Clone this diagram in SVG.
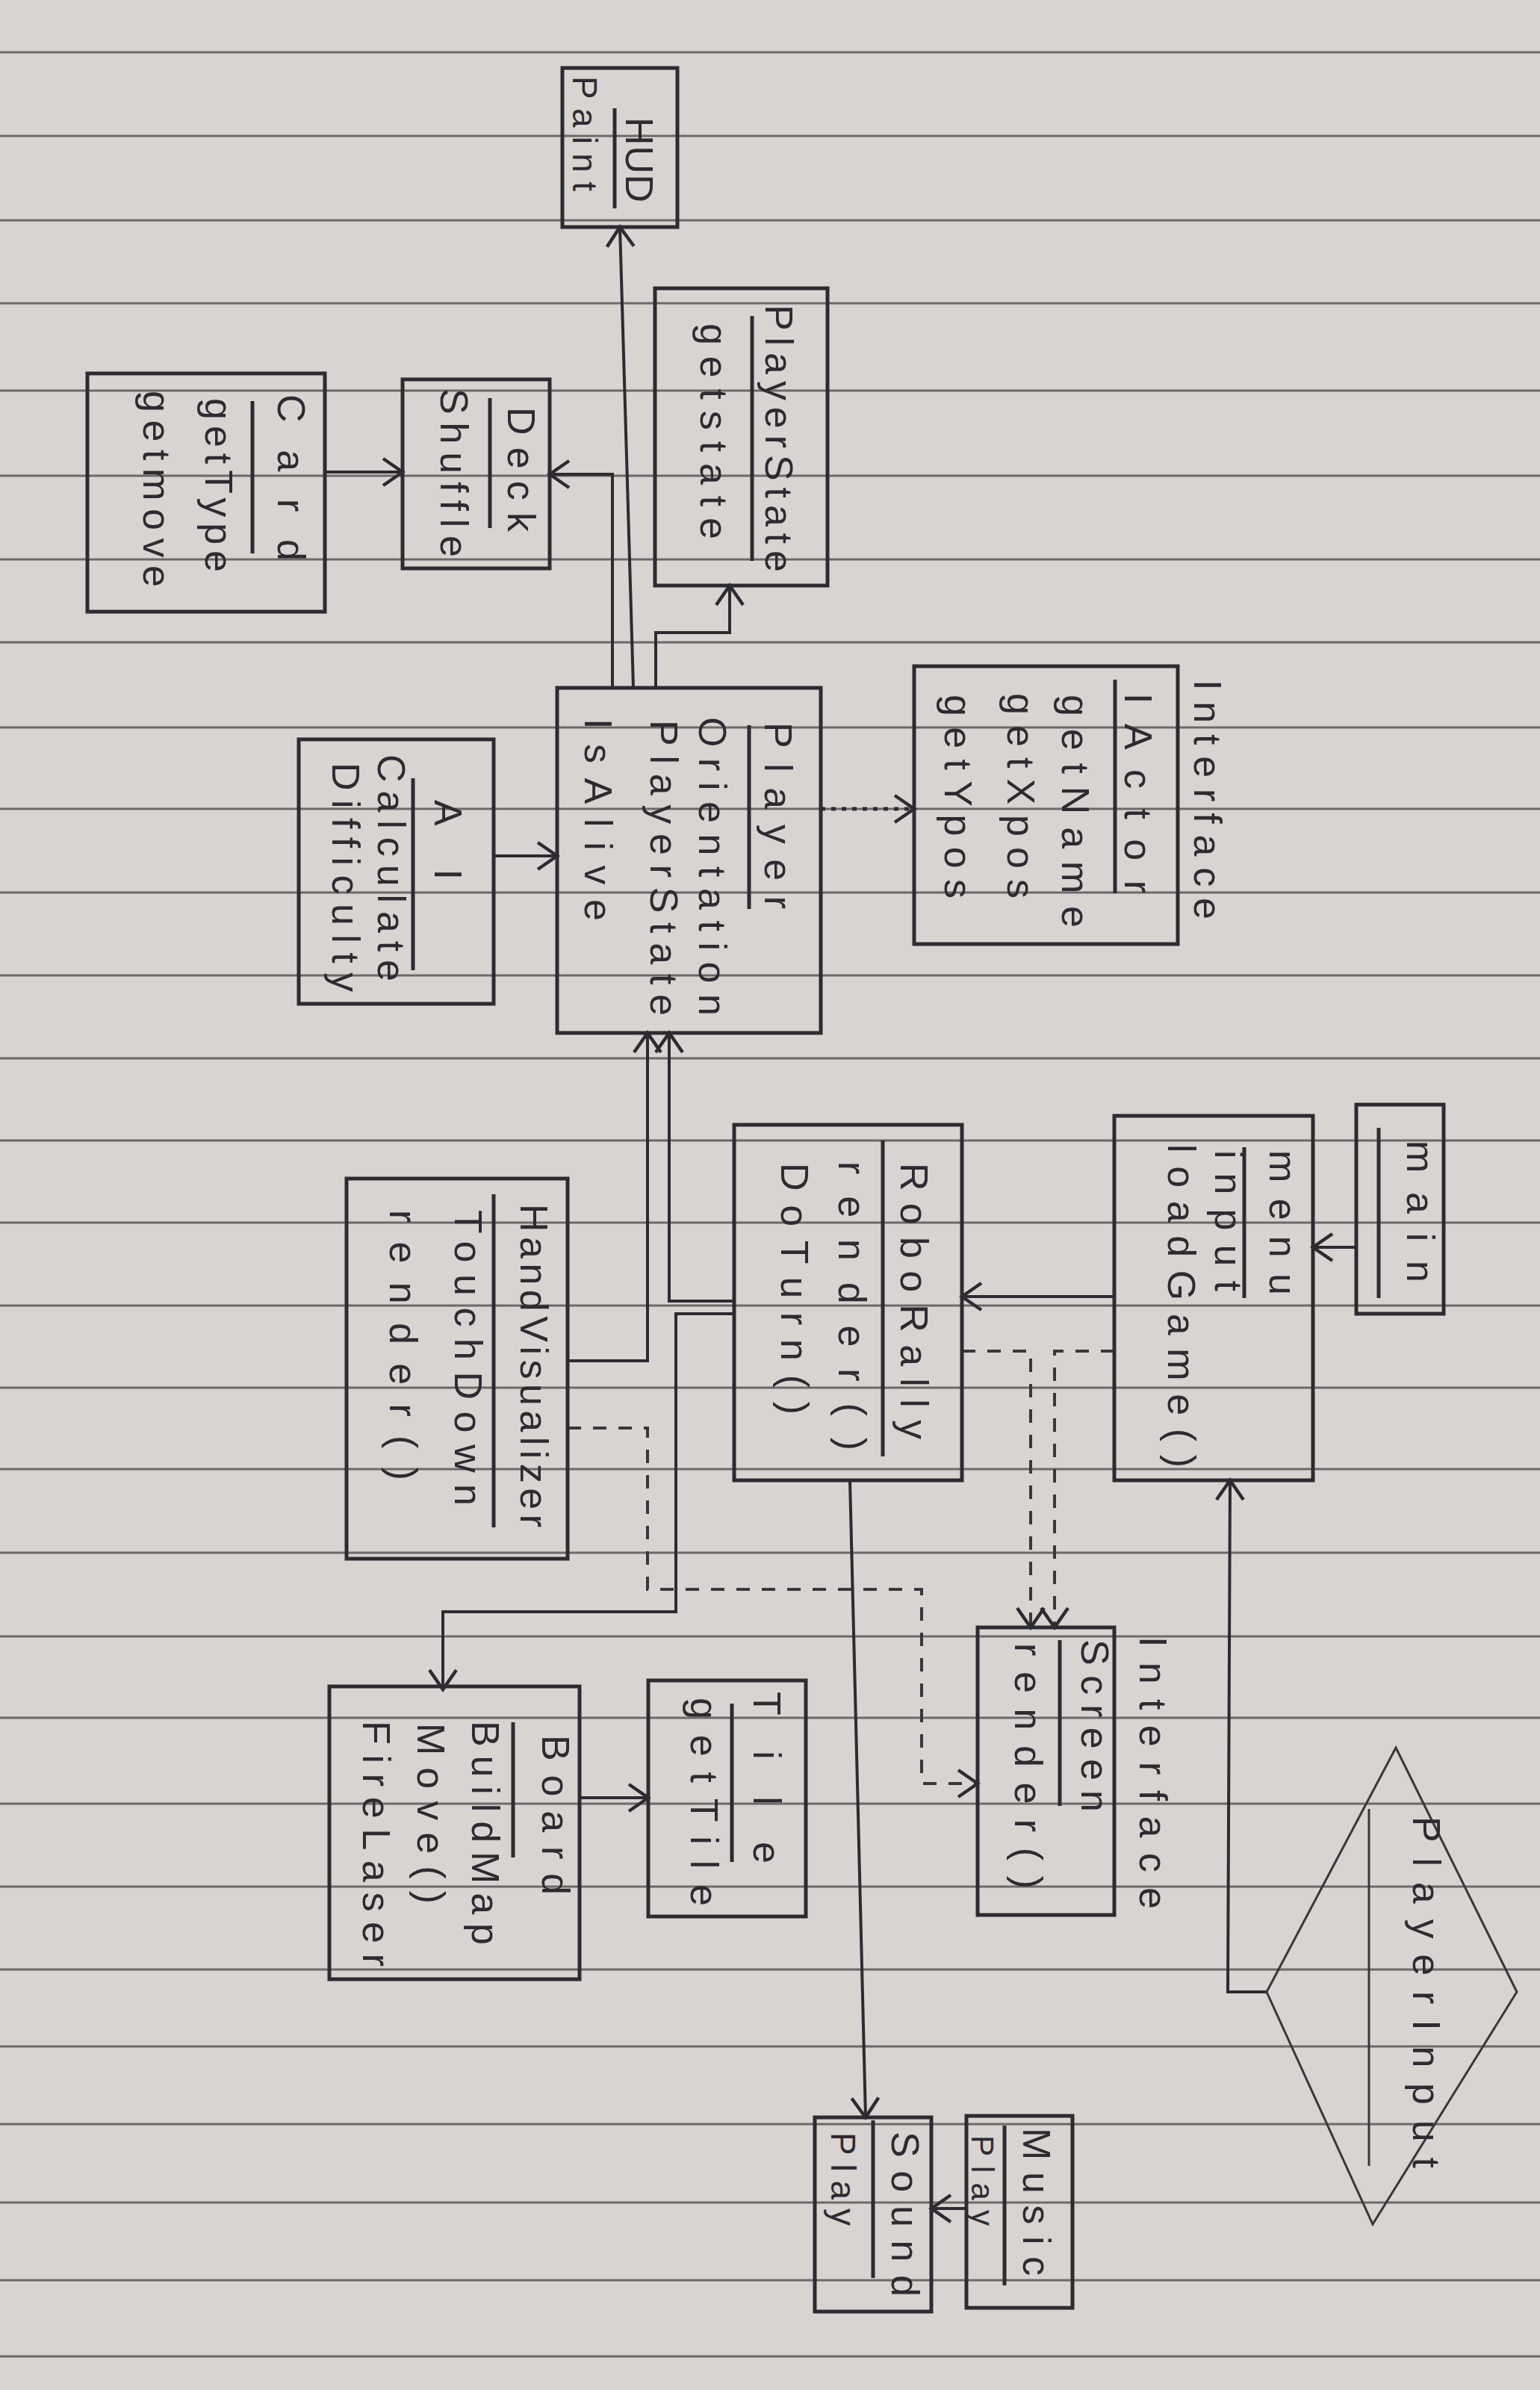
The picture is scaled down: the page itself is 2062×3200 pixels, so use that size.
<svg xmlns="http://www.w3.org/2000/svg" width="2062" height="3200" viewBox="0 0 2062 3200">
<style>
.bg{fill:#d8d4d1}
.rule{stroke:#6e6969;stroke-width:3;fill:none}
.box{fill:none;stroke:#2e2a31;stroke-width:5}
.div{stroke:#2e2a31;stroke-width:5;fill:none}
.t{font-family:"Liberation Sans","DejaVu Sans",sans-serif;font-size:52px;fill:#2e2a31}
.c{fill:none;stroke:#2e2a31;stroke-width:4}
.d{fill:none;stroke:#3a363c;stroke-width:4;stroke-dasharray:18 16}
.dot{fill:none;stroke:#2e2a31;stroke-width:5;stroke-dasharray:6 8}
.dia{fill:none;stroke:#3a363c;stroke-width:3}
</style>
<defs>
<marker id="arr" markerUnits="userSpaceOnUse" markerWidth="34" markerHeight="44" viewBox="-3 -3 34 44" refX="26" refY="18" orient="auto">
<path d="M0,0 L26,18 L0,36" fill="none" stroke="#2e2a31" stroke-width="4.5"/>
</marker>
</defs>
<rect class="bg" x="0" y="0" width="2062" height="3200"/>
<g id="ruling">
<path class="rule" d="M0,70H2062M0,182H2062M0,295H2062M0,406H2062M0,523H2062M0,637H2062M0,749H2062M0,860H2062M0,974H2062M0,1083H2062M0,1195H2062M0,1306H2062M0,1417H2062M0,1527H2062M0,1637H2062M0,1748H2062M0,1858H2062M0,1967H2062M0,2079H2062M0,2191H2062M0,2300H2062M0,2415H2062M0,2526H2062M0,2637H2062M0,2740H2062M0,2844H2062M0,2949H2062M0,3053H2062M0,3155H2062"/>
</g>
<g id="connectors">
<path class="c" d="M435,632H539" marker-end="url(#arr)"/>
<path class="c" d="M820,921V635H736" marker-end="url(#arr)"/>
<path class="c" d="M848,921L830,304" marker-end="url(#arr)"/>
<path class="c" d="M878,921V847H977V784" marker-end="url(#arr)"/>
<path class="c" d="M661,1146H746" marker-end="url(#arr)"/>
<path class="dot" d="M1099,1083H1224" marker-end="url(#arr)"/>
<path class="c" d="M760,1822H867V1383" marker-end="url(#arr)"/>
<path class="c" d="M983,1742H896V1383" marker-end="url(#arr)"/>
<path class="c" d="M983,1759H905V2158H593V2262" marker-end="url(#arr)"/>
<path class="c" d="M1492,1736H1288" marker-end="url(#arr)"/>
<path class="c" d="M1816,1670H1758" marker-end="url(#arr)"/>
<path class="d" d="M760,1912H867V2128H1234V2388H1309" marker-end="url(#arr)"/>
<path class="d" d="M1288,1809H1380V2179" marker-end="url(#arr)"/>
<path class="d" d="M1492,1809H1412V2179" marker-end="url(#arr)"/>
<path class="c" d="M1138,1982L1159,2835" marker-end="url(#arr)"/>
<path class="c" d="M1294,2957H1247" marker-end="url(#arr)"/>
<path class="c" d="M776,2407H868" marker-end="url(#arr)"/>
<path class="c" d="M1696,2667H1644L1647,1982" marker-end="url(#arr)"/>
</g>
<g id="HUD">
<rect class="box" x="753" y="91" width="154" height="213"/>
<path class="div" d="M823,145V279"/>
<text class="t" transform="translate(838,157) rotate(90)" textLength="114" lengthAdjust="spacing">HUD</text>
<text class="t" style="font-size:46px" transform="translate(767,102) rotate(90)" textLength="154" lengthAdjust="spacing">Paint</text>
</g>
<g id="PlayerStateNode">
<rect class="box" x="877" y="386" width="231" height="398"/>
<path class="div" d="M1007,423V751"/>
<text class="t" transform="translate(1025,408) rotate(90)" textLength="358" lengthAdjust="spacing">PlayerState</text>
<text class="t" transform="translate(938,433) rotate(90)" textLength="289" lengthAdjust="spacing">getstate</text>
</g>
<g id="Card">
<rect class="box" x="117" y="500" width="318" height="319"/>
<path class="div" d="M338,537V741"/>
<text class="t" transform="translate(372,528) rotate(90)" textLength="223" lengthAdjust="spacing">Card</text>
<text class="t" transform="translate(275,533) rotate(90)" textLength="233" lengthAdjust="spacing">getType</text>
<text class="t" transform="translate(192,523) rotate(90)" textLength="263" lengthAdjust="spacing">getmove</text>
</g>
<g id="Deck">
<rect class="box" x="539" y="508" width="197" height="253"/>
<path class="div" d="M656,533V707"/>
<text class="t" transform="translate(680,545) rotate(90)" textLength="167" lengthAdjust="spacing">Deck</text>
<text class="t" transform="translate(590,520) rotate(90)" textLength="226" lengthAdjust="spacing">Shuffle</text>
</g>
<g id="Player">
<rect class="box" x="746" y="921" width="353" height="462"/>
<path class="div" d="M1003,971V1217"/>
<text class="t" transform="translate(1024,967) rotate(90)" textLength="250" lengthAdjust="spacing">Player</text>
<text class="t" transform="translate(936,960) rotate(90)" textLength="400" lengthAdjust="spacing">Orientation</text>
<text class="t" transform="translate(871,964) rotate(90)" textLength="396" lengthAdjust="spacing">PlayerState</text>
<text class="t" transform="translate(783,962) rotate(90)" textLength="271" lengthAdjust="spacing">IsAlive</text>
</g>
<g id="AI">
<rect class="box" x="400" y="990" width="261" height="354"/>
<path class="div" d="M553,1042V1299"/>
<text class="t" transform="translate(582,1071) rotate(90)" textLength="107" lengthAdjust="spacing">AI</text>
<text class="t" transform="translate(506,1010) rotate(90)" textLength="304" lengthAdjust="spacing">Calculate</text>
<text class="t" transform="translate(445,1021) rotate(90)" textLength="307" lengthAdjust="spacing">Difficulty</text>
</g>
<g id="IActor">
<rect class="box" x="1224" y="892" width="353" height="372"/>
<path class="div" d="M1493,910V1196"/>
<text class="t" transform="translate(1506,928) rotate(90)" textLength="268" lengthAdjust="spacing">IActor</text>
<text class="t" transform="translate(1422,930) rotate(90)" textLength="312" lengthAdjust="spacing">getName</text>
<text class="t" transform="translate(1349,928) rotate(90)" textLength="275" lengthAdjust="spacing">getXpos</text>
<text class="t" transform="translate(1265,930) rotate(90)" textLength="273" lengthAdjust="spacing">getYpos</text>
<text class="t" transform="translate(1599,910) rotate(90)" textLength="321" lengthAdjust="spacing">Interface</text>
</g>
<g id="HandVisualizer">
<rect class="box" x="464" y="1578" width="296" height="509"/>
<path class="div" d="M661,1599V2045"/>
<text class="t" transform="translate(697,1612) rotate(90)" textLength="433" lengthAdjust="spacing">HandVisualizer</text>
<text class="t" transform="translate(609,1620) rotate(90)" textLength="396" lengthAdjust="spacing">TouchDown</text>
<text class="t" transform="translate(522,1620) rotate(90)" textLength="362" lengthAdjust="spacing">render()</text>
</g>
<g id="RoboRally">
<rect class="box" x="983" y="1506" width="305" height="476"/>
<path class="div" d="M1182,1527V1950"/>
<text class="t" transform="translate(1206,1557) rotate(90)" textLength="370" lengthAdjust="spacing">RoboRally</text>
<text class="t" transform="translate(1123,1555) rotate(90)" textLength="387" lengthAdjust="spacing">render()</text>
<text class="t" transform="translate(1046,1557) rotate(90)" textLength="337" lengthAdjust="spacing">DoTurn()</text>
</g>
<g id="Menu">
<rect class="box" x="1492" y="1494" width="266" height="488"/>
<path class="div" d="M1666,1536V1738"/>
<text class="t" transform="translate(1700,1540) rotate(90)" textLength="194" lengthAdjust="spacing">menu</text>
<text class="t" transform="translate(1627,1540) rotate(90)" textLength="189" lengthAdjust="spacing">input</text>
<text class="t" transform="translate(1564,1532) rotate(90)" textLength="433" lengthAdjust="spacing">loadGame()</text>
</g>
<g id="main">
<rect class="box" x="1816" y="1479" width="117" height="280"/>
<path class="div" d="M1846,1510V1738"/>
<text class="t" transform="translate(1884,1527) rotate(90)" textLength="190" lengthAdjust="spacing">main</text>
</g>
<g id="Board">
<rect class="box" x="441" y="2258" width="335" height="392"/>
<path class="div" d="M687,2306V2487"/>
<text class="t" transform="translate(726,2323) rotate(90)" textLength="214" lengthAdjust="spacing">Board</text>
<text class="t" transform="translate(632,2304) rotate(90)" textLength="300" lengthAdjust="spacing">BuildMap</text>
<text class="t" transform="translate(559,2307) rotate(90)" textLength="242" lengthAdjust="spacing">Move()</text>
<text class="t" transform="translate(486,2304) rotate(90)" textLength="329" lengthAdjust="spacing">FireLaser</text>
</g>
<g id="Tile">
<rect class="box" x="868" y="2250" width="211" height="316"/>
<path class="div" d="M980,2281V2493"/>
<text class="t" transform="translate(1009,2265) rotate(90)" textLength="230" lengthAdjust="spacing">Tile</text>
<text class="t" transform="translate(925,2273) rotate(90)" textLength="279" lengthAdjust="spacing">getTile</text>
</g>
<g id="Screen">
<rect class="box" x="1309" y="2179" width="183" height="385"/>
<path class="div" d="M1419,2196V2418"/>
<text class="t" transform="translate(1448,2195) rotate(90)" textLength="231" lengthAdjust="spacing">Screen</text>
<text class="t" transform="translate(1359,2200) rotate(90)" textLength="329" lengthAdjust="spacing">render()</text>
<text class="t" transform="translate(1526,2191) rotate(90)" textLength="365" lengthAdjust="spacing">Interface</text>
</g>
<g id="PlayerInput">
<polygon class="dia" points="1869,2340 2031,2667 1838,2978 1696,2667"/>
<path class="dia" d="M1833,2422V2900"/>
<text class="t" transform="translate(1892,2432) rotate(90)" textLength="471" lengthAdjust="spacing">PlayerInput</text>
</g>
<g id="Sound">
<rect class="box" x="1091" y="2835" width="156" height="260"/>
<path class="div" d="M1169,2839V3050"/>
<text class="t" transform="translate(1194,2854) rotate(90)" textLength="221" lengthAdjust="spacing">Sound</text>
<text class="t" style="font-size:46px" transform="translate(1113,2855) rotate(90)" textLength="125" lengthAdjust="spacing">Play</text>
</g>
<g id="Music">
<rect class="box" x="1294" y="2833" width="142" height="257"/>
<path class="div" d="M1345,2846V3060"/>
<text class="t" transform="translate(1370,2849) rotate(90)" textLength="198" lengthAdjust="spacing">Music</text>
<text class="t" style="font-size:42px" transform="translate(1301,2859) rotate(90)" textLength="121" lengthAdjust="spacing">Play</text>
</g>
</svg>
